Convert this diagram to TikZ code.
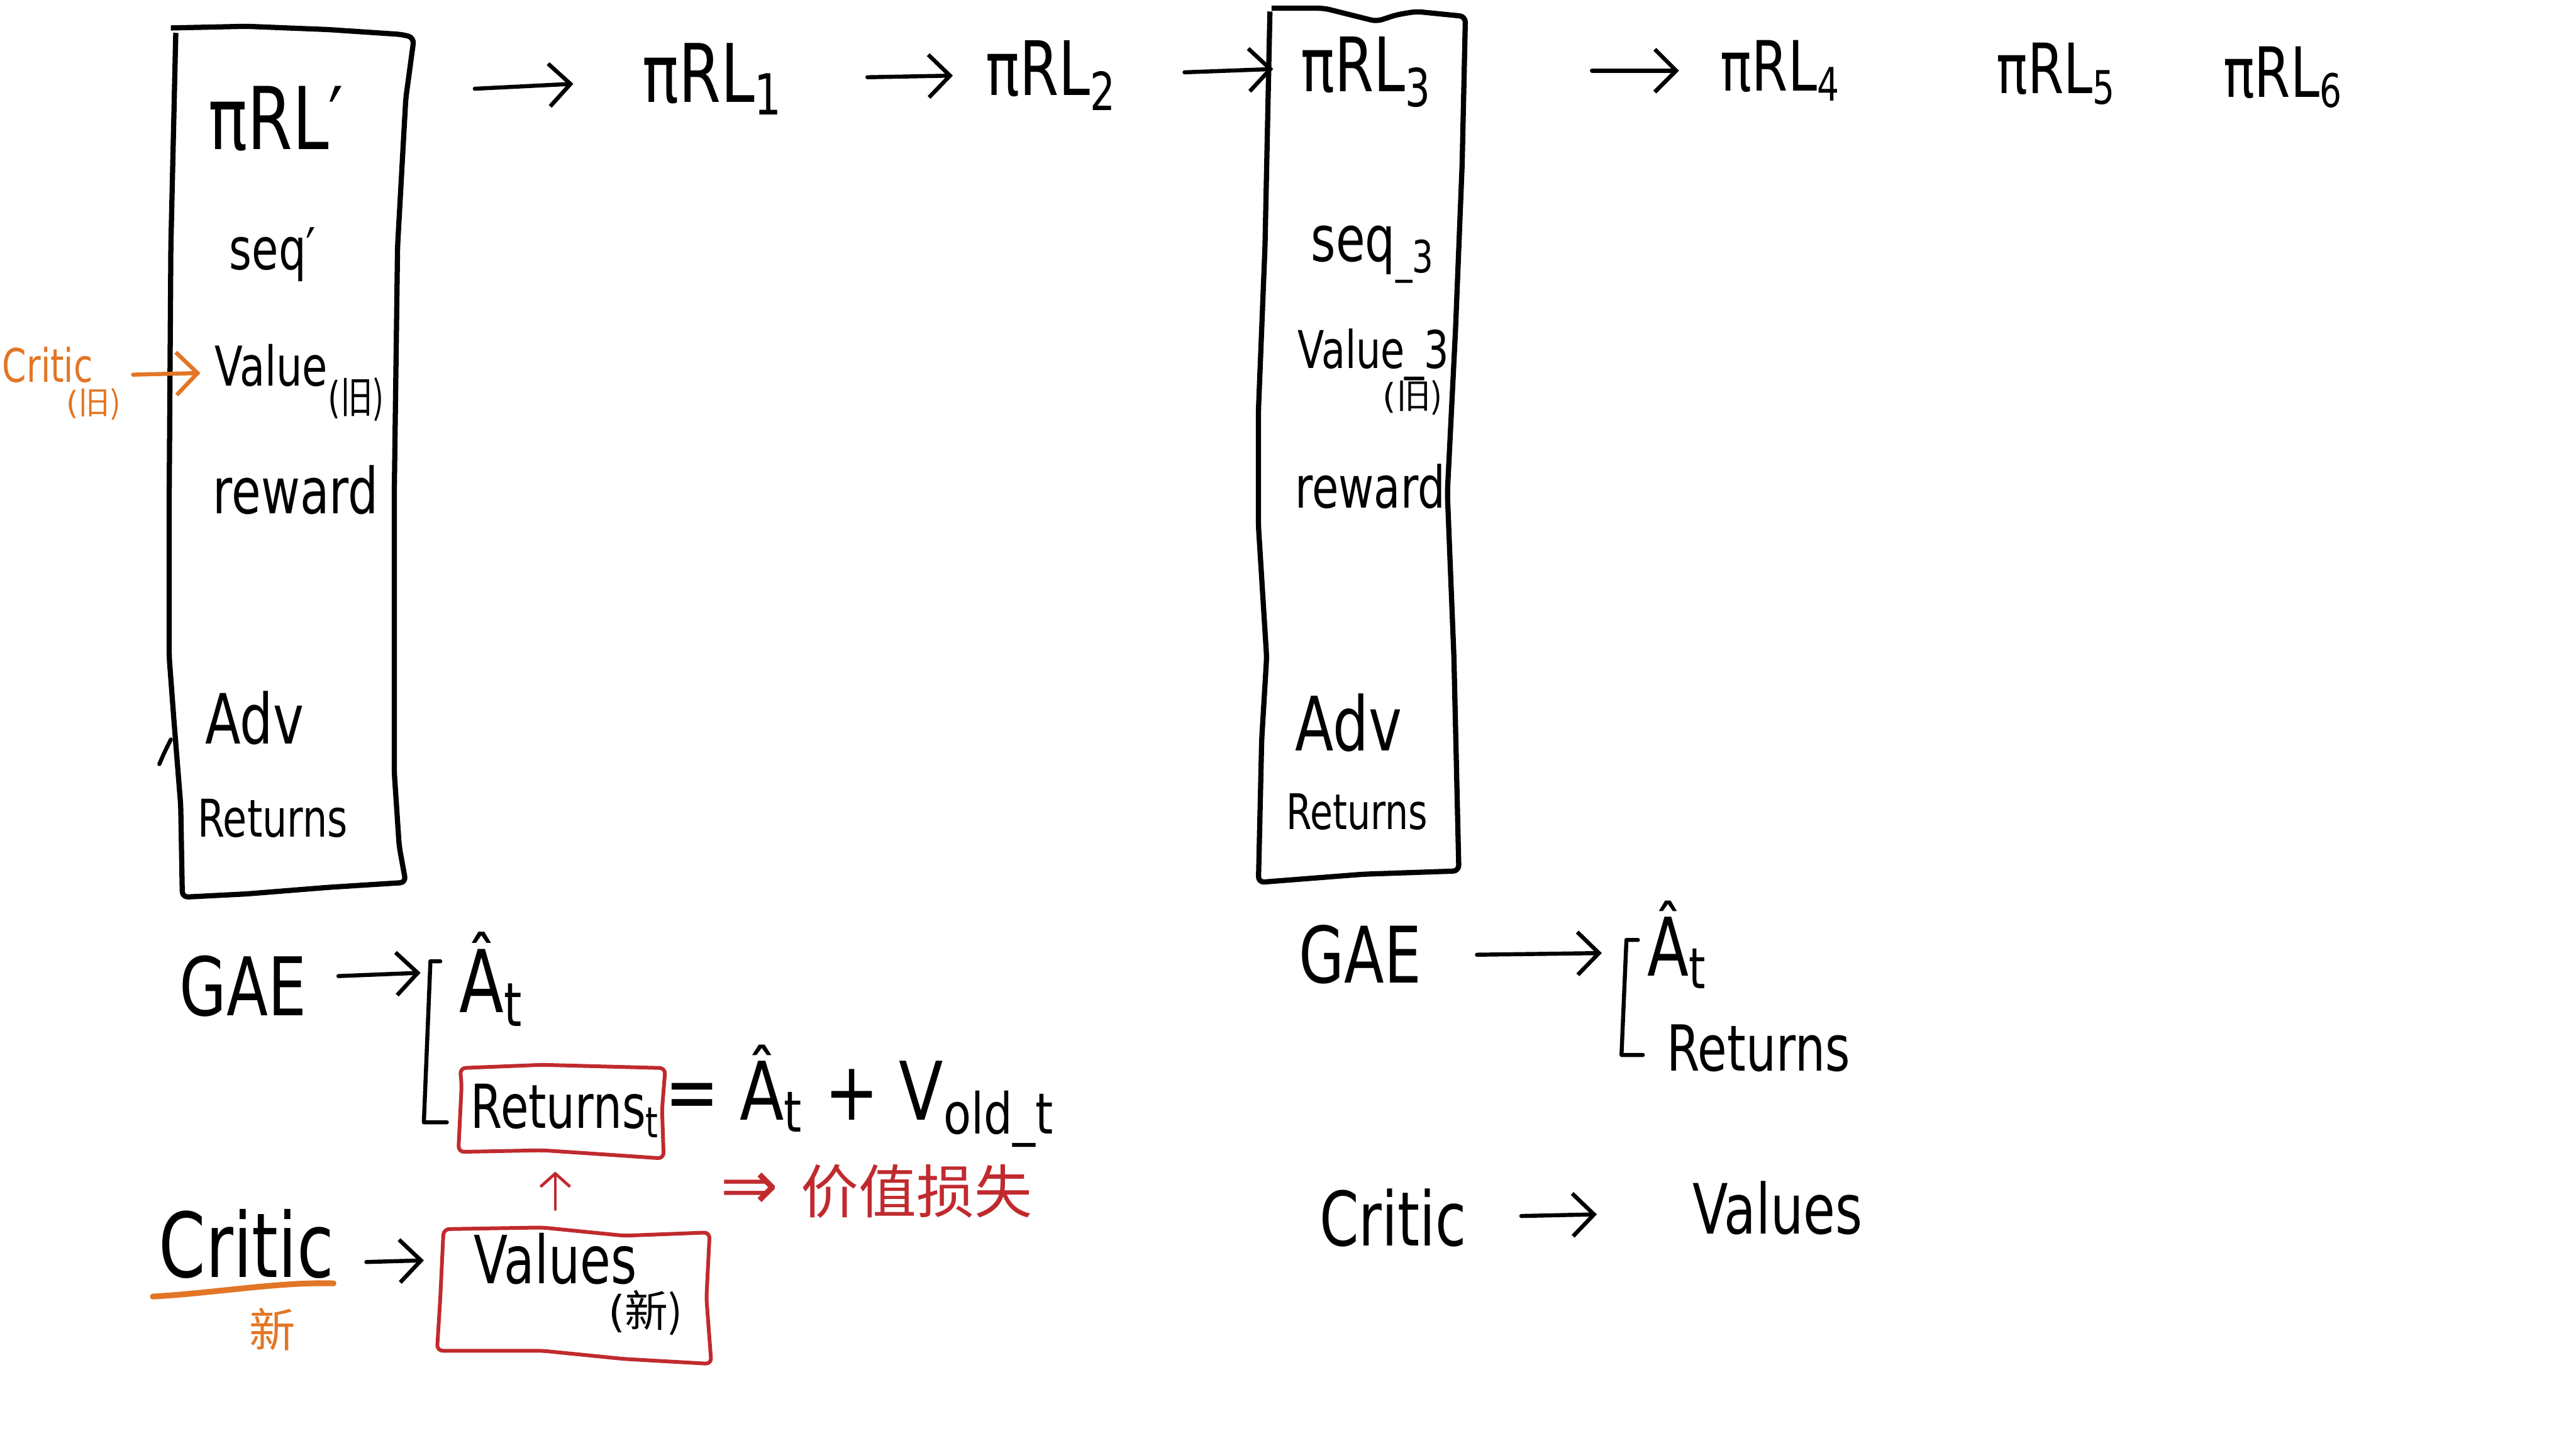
\documentclass[tikz,border=0pt]{standalone}
\usepackage{graphicx}
\usepackage{fontspec}
\setmainfont{DejaVu Sans}
\newfontfamily\cjk{Noto Sans CJK SC}
\usetikzlibrary{arrows.meta}
\definecolor{inkorange}{RGB}{226,118,38}
\definecolor{inkred}{RGB}{192,42,46}
\newcommand\hw[1]{\scalebox{0.75}[1]{#1}}
\newcommand\fs[1]{\fontsize{#1}{#1}\selectfont}
\tikzset{
  ink/.style={line width=0.7pt, line cap=round, line join=round},
  box/.style={line width=0.9pt, line join=round, rounded corners=1pt},
  redbox/.style={line width=0.65pt, draw=inkred, line join=round, rounded corners=1pt},
  arr/.style={ink, -{Straight Barb[length=1.3mm,width=2.6mm]}},
  lbl/.style={inner sep=0pt, anchor=center},
}
\begin{document}
\begin{tikzpicture}[x=0.01cm,y=-0.01cm]
\useasboundingbox (0,0) rectangle (1568,875);

% ---------- left box ----------
\draw[box] (104,17) -- (150,16) -- (200,18) -- (245,21) -- (252,23) -- (247,60) -- (242,150)
  -- (240,300) -- (240,470) -- (243,515) -- (247,537) -- (200,540) -- (150,544) -- (111,546)
  -- (110,490) -- (106,440) -- (103,400) -- (103,300) -- (104,150) -- (107,20);
\draw[ink] (97,465) .. controls (100,458) .. (104,450);

\node[lbl,font=\fs{15}] (pi0)  at (168,72)  {\hw{πRL′}};
\node[lbl,font=\fs{10}] (seq0) at (166,155) {\hw{seq′}};
\node[lbl,font=\fs{9.5},anchor=west] (val0) at (130,233) {\hw{Value\raisebox{-0.9ex}{\fs{7.5}(\cjk 旧)}}};
\node[lbl,font=\fs{11}] (rew0) at (180,298) {\hw{reward}};
\node[lbl,font=\fs{12}] (adv0) at (155,437) {\hw{Adv}};
\node[lbl,font=\fs{9}] (ret0)  at (166,498) {\hw{Returns}};

% orange critic (old)
\node[lbl,font=\fs{8},text=inkorange] (cold) at (29,222) {\hw{Critic}};
\node[lbl,font=\fs{5.5},text=inkorange] (coldt) at (57,246) {(\cjk 旧)};
\coordinate (oa1) at (81,228);
\coordinate (oa2) at (122,227);
\draw[arr,draw=inkorange] (oa1) -- (oa2);

% ---------- top row ----------
\node[lbl,font=\fs{14}] (pi1) at (434,48) {\hw{πRL\textsubscript{1}}};
\node[lbl,font=\fs{13}] (pi2) at (640,46) {\hw{πRL\textsubscript{2}}};
\node[lbl,font=\fs{13}] (pi3) at (832,44) {\hw{πRL\textsubscript{3}}};
\node[lbl,font=\fs{12}] (pi4) at (1084,43) {\hw{πRL\textsubscript{4}}};
\node[lbl,font=\fs{12}] (pi5) at (1252,45) {\hw{πRL\textsubscript{5}}};
\node[lbl,font=\fs{12}] (pi6) at (1390,47) {\hw{πRL\textsubscript{6}}};

\coordinate (t1a) at (289,54);  \coordinate (t1b) at (349,51);
\coordinate (t2a) at (528,47);  \coordinate (t2b) at (580,46);
\coordinate (t3a) at (721,44);  \coordinate (t3b) at (775,42);
\coordinate (t4a) at (969,43);  \coordinate (t4b) at (1022,43);
\draw[arr] (t1a) -- (t1b);
\draw[arr] (t2a) -- (t2b);
\draw[arr] (t3a) -- (t3b);
\draw[arr] (t4a) -- (t4b);

% ---------- right box ----------
\draw[box] (774,5) -- (806,5) -- (822,9) -- (838,13) -- (850,9) -- (862,7) -- (892,10)
  -- (890,100) -- (886,200) -- (881,300) -- (885,400) -- (888,530) -- (830,532) -- (766,537)
  -- (768,450) -- (771,400) -- (766,320) -- (766,250) -- (770,150) -- (773,7);

\node[lbl,font=\fs{11}] (seq3) at (836,155) {\hw{seq\textsubscript{\_3}}};
\node[lbl,font=\fs{9}]  (val3) at (836,216) {\hw{Value\_3}};
\node[lbl,font=\fs{6}]  (val3t) at (860,242) {(\cjk 旧)};
\node[lbl,font=\fs{10}] (rew3) at (834,296) {\hw{reward}};
\node[lbl,font=\fs{13}] (adv3) at (821,440) {\hw{Adv}};
\node[lbl,font=\fs{8.5}] (ret3) at (826,494) {\hw{Returns}};

% ---------- bottom left ----------
\node[lbl,font=\fs{14}] (gae1) at (148,600) {\hw{GAE}};
\coordinate (g1a) at (206,594);
\coordinate (g1b) at (256,592);
\draw[arr] (g1a) -- (g1b);
\draw[ink] (268,585) -- (262,585) -- (258,683) -- (272,683);
\node[lbl,font=\fs{15},anchor=west] (adv1) at (279,596) {\hw{Â\textsubscript{t}}};

\draw[redbox] (280,650) -- (330,648) -- (405,650) -- (403,675) -- (404,705) -- (360,702) -- (330,700) -- (279,701) -- (281,660) -- cycle;
\node[lbl,font=\fs{10.5},anchor=west] (retb) at (286,676) {\hw{Returns\textsubscript{t}}};
\node[lbl,font=\fs{14},anchor=west] (eqn) at (404,667) {\scalebox{0.8}[1]{= Â\textsubscript{t} + V\textsubscript{old\_t}}};

\node[lbl,font=\fs{15.5}] (crit1) at (150,757) {\hw{Critic}};
\draw[line width=1pt, draw=inkorange, line cap=round] (93,789) .. controls (130,787) and (170,780) .. (203,781);
\node[lbl,font=\fs{8},text=inkorange] (xin) at (166,809) {\cjk 新};
\coordinate (c1a) at (223,768);
\coordinate (c1b) at (258,767);
\draw[arr] (c1a) -- (c1b);

\draw[redbox] (270,748) -- (330,747) -- (380,752) -- (432,750) -- (430,790) -- (433,830) -- (380,827) -- (330,822) -- (266,822) -- (268,790) -- cycle;
\node[lbl,font=\fs{11.5}] (valn) at (338,766) {\hw{Values}};
\node[lbl,font=\fs{7.5}] (valnt) at (393,799) {(\cjk 新)};

\coordinate (ra) at (338,736);
\coordinate (rb) at (338,713);
\draw[ink, line width=0.5pt, draw=inkred, -{Straight Barb[length=0.8mm,width=1.8mm]}] (ra) -- (rb);
\node[lbl,font=\fs{12},text=inkred] (dbl) at (456,725) {⇒};
\node[lbl,font=\fs{10},text=inkred,anchor=west] (loss) at (487,725) {\cjk 价值损失};

% ---------- bottom right ----------
\node[lbl,font=\fs{13.5}] (gae2) at (828,581) {\hw{GAE}};
\coordinate (g2a) at (899,581);
\coordinate (g2b) at (975,580);
\draw[arr] (g2a) -- (g2b);
\draw[ink] (997,572) -- (990,572) -- (987,642) -- (1000,642);
\node[lbl,font=\fs{14},anchor=west] (adv2) at (1002,575) {\hw{Â\textsubscript{t}}};
\node[lbl,font=\fs{11},anchor=west] (ret2) at (1014,638) {\hw{Returns}};

\node[lbl,font=\fs{13}] (crit2) at (848,741) {\hw{Critic}};
\coordinate (c2a) at (926,740);
\coordinate (c2b) at (972,739);
\draw[arr] (c2a) -- (c2b);
\node[lbl,font=\fs{12}] (vals2) at (1082,735) {\hw{Values}};
\end{tikzpicture}
\end{document}
